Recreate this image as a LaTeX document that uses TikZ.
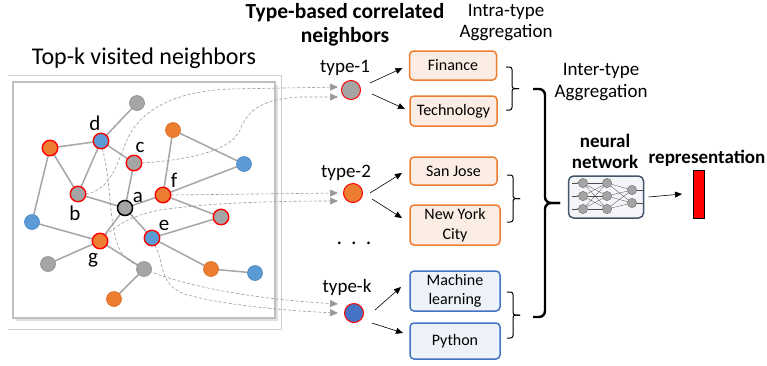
\documentclass[tikz,border=0pt]{standalone}
\usepackage{fontspec}
\setmainfont{Carlito}
\usetikzlibrary{arrows.meta,calc}
\pgfdeclarelayer{bg}
\pgfsetlayers{bg,main}
\definecolor{ngray}{HTML}{A5A5A5}
\definecolor{ngrayd}{HTML}{8C8C8C}
\definecolor{norange}{HTML}{ED7D31}
\definecolor{norangeD}{HTML}{D66A22}
\definecolor{nblue}{HTML}{5B9BD5}
\definecolor{nblueD}{HTML}{4A86C0}
\definecolor{kblue}{HTML}{4472C4}
\definecolor{egray}{HTML}{A6A6A6}
\definecolor{dgray}{HTML}{999999}
\definecolor{obox}{HTML}{FCEDE4}
\definecolor{bbox}{HTML}{EDF2F9}
\definecolor{nnborder}{HTML}{44546A}
\definecolor{nnfill}{HTML}{F3F5F9}
\definecolor{frame}{HTML}{D0D0D0}
\definecolor{inframe}{HTML}{BFBFBF}
\begin{document}
\begin{tikzpicture}[x=1pt,y=-1pt,
  every node/.style={inner sep=0pt,outer sep=0pt},
  gnode/.style={circle,minimum size=15pt,fill=ngray,draw=ngrayd,line width=0.6pt},
  onode/.style={circle,minimum size=15pt,fill=norange,draw=norangeD,line width=0.6pt},
  bnode/.style={circle,minimum size=15pt,fill=nblue,draw=nblueD,line width=0.6pt},
  sel/.style={draw=red,line width=1.4pt,minimum size=15.5pt},
  edge/.style={draw=egray,line width=1.5pt},
  dsh/.style={draw=dgray,line width=0.6pt,dash pattern=on 3pt off 2pt,
    -{Triangle[length=8pt,width=7pt]}},
  letter/.style={font=\fontsize{21}{21}\selectfont},
  tlbl/.style={font=\fontsize{19}{19}\selectfont,anchor=base},
  typenode/.style={circle,minimum size=19pt,draw=red,line width=1pt},
  obx/.style={draw=norange,fill=obox,rounded corners=4pt,line width=1.5pt,
    minimum width=87pt,font=\fontsize{16}{19.5}\selectfont,align=center},
  bbx/.style={draw=kblue,fill=bbox,rounded corners=4pt,line width=1.5pt,
    minimum width=90pt,font=\fontsize{16}{19.5}\selectfont,align=center},
  arr/.style={draw=black,line width=0.6pt,-{Triangle[length=7pt,width=6pt]}},
  brc/.style={draw=black,line width=1pt,rounded corners=2.5pt},
  nn/.style={circle,minimum size=9pt,fill=ngray,draw=gray,line width=0.5pt}
]
\useasboundingbox (0,0) rectangle (767,365);

% ---------- frame of the neighbour graph
\begin{pgfonlayer}{bg}
\draw[frame,line width=0.8pt] (8,75) -- (281,75) -- (281,329) -- (8,329);
\fill[black!12] (16,85) rectangle (278,321);
\draw[inframe,line width=1.2pt,fill=white] (13,82) rectangle (275,318);
\end{pgfonlayer}

% ---------- titles
\node[font=\fontsize{24}{24}\selectfont,anchor=base] (ttl) at (144,64) {Top-k visited neighbors};
\node[font=\bfseries\fontsize{21.5}{24}\selectfont,align=center,anchor=base] (tbc) at (345,42) {Type-based correlated\\neighbors};
\node[font=\fontsize{19}{21}\selectfont,align=center,anchor=base] (intra) at (506,37) {Intra-type\\Aggregation};
\node[font=\fontsize{19}{22}\selectfont,align=center,anchor=base] (inter) at (601,97) {Inter-type\\Aggregation};
\node[font=\bfseries\fontsize{19}{21}\selectfont,align=center,anchor=base] (nnl) at (605,168) {neural\\network};
\node[font=\bfseries\fontsize{19}{21}\selectfont,anchor=base] (repl) at (707,163) {representation};

% ---------- graph nodes
\node[gnode] (top) at (137,103) {};
\node[bnode,sel] (d) at (101,141) {};
\node[onode,sel] (ol) at (50,148) {};
\node[gnode,sel] (c) at (134,163) {};
\node[onode] (ot) at (173,130) {};
\node[bnode] (br) at (244,164) {};
\node[gnode,sel] (b) at (78,194) {};
\node[gnode,draw=black,line width=1.5pt] (a) at (125,208) {};
\node[onode,sel] (f) at (163,195) {};
\node[gnode,sel] (gr) at (221,217) {};
\node[bnode] (bl) at (32,222) {};
\node[bnode,sel] (e) at (152,238) {};
\node[onode,sel] (g) at (100,241) {};
\node[gnode] (gbl) at (48,264) {};
\node[gnode] (gm) at (144,269) {};
\node[onode] (obm) at (211,269) {};
\node[bnode] (bbr) at (255,273) {};
\node[onode] (ob) at (114,299) {};

\node[letter] (ld) at (95,123) {d};
\node[letter] (lc) at (140,147) {c};
\node[letter] (lf) at (174,180) {f};
\node[letter] (la) at (138,197) {a};
\node[letter] (lb) at (75,213) {b};
\node[letter] (le) at (164,225) {e};
\node[letter] (lg) at (93,260) {g};

\begin{pgfonlayer}{bg}
\foreach \u/\v in {top/d,d/ol,d/c,d/b,ol/b,ol/bl,b/a,c/a,a/f,a/e,a/g,f/ot,f/br,f/gr,
  ot/br,e/gr,e/obm,obm/bbr,bl/g,g/gbl,g/gm,gm/ob}
  \draw[edge] (\u) -- (\v);
\end{pgfonlayer}

% ---------- type nodes
\node[typenode,fill=ngray] (t1) at (351,90) {};
\node[typenode,fill=norange] (t2) at (353,193) {};
\node[typenode,fill=kblue] (tk) at (354,313) {};
\node[tlbl] (lt1) at (345,72) {type-1};
\node[tlbl] (lt2) at (346,177) {type-2};
\node[tlbl] (ltk) at (347,292) {type-k};
\node[font=\fontsize{22}{22}\selectfont] (dots) at (354,243) {.\hspace{9pt}.\hspace{9pt}.};

\coordinate (t1a) at ($(t1)+(-13,-3)$);
\coordinate (t1b) at ($(t1)+(-13,7)$);
\coordinate (t2a) at ($(t2)+(-15,0)$);
\coordinate (t2b) at ($(t2)+(-15,8)$);
\coordinate (t3a) at ($(tk)+(-16,-9)$);
\coordinate (t3b) at ($(tk)+(-16,0)$);

% ---------- dashed correlation curves
\begin{pgfonlayer}{bg}
\draw[dsh] (b.east) .. controls (112,190) and (118,160) .. (127,140)
   .. controls (140,110) and (175,91) .. (230,89) -- (t1a);
\draw[dsh] (c.east) .. controls (190,160) and (232,150) .. (240,130)
   .. controls (248,108) and (265,99) .. (300,97) -- (t1b);
\draw[dsh] (f.east) -- (t2a);
\draw[dsh] (g.45) .. controls (120,222) and (135,215) .. (160,210)
   .. controls (200,204) and (260,201) .. (t2b);
\draw[dsh] (d.-80) .. controls (113,190) and (108,235) .. (123,255)
   .. controls (140,275) and (220,297) .. (t3a);
\draw[dsh] (e.-70) .. controls (165,262) and (158,285) .. (185,294)
   .. controls (220,305) and (290,311) .. (t3b);
\end{pgfonlayer}

% ---------- attribute boxes
\node[obx,minimum height=29pt] (fin) at (453,65.5) {Finance};
\node[obx,minimum height=30pt] (tech) at (453.5,111) {Technology};
\node[obx,minimum height=28pt] (sj) at (453.5,171) {San Jose};
\node[obx,minimum height=40pt,minimum width=90pt] (ny) at (455,225) {New York\\City};
\node[bbx,minimum height=40pt] (ml) at (455,291) {Machine\\learning};
\node[bbx,minimum height=36pt] (py) at (455,341) {Python};

\draw[arr] ($(t1)+(19,-7)$) -- ($(fin.west)+(-7,2.5)$);
\draw[arr] ($(t1)+(21,4)$) -- ($(tech.west)+(-5,-2)$);
\draw[arr] ($(t2)+(17,0)$) -- ($(sj.west)+(-8,2)$);
\draw[arr] ($(t2)+(19,6)$) -- ($(ny.west)+(-8,-7)$);
\draw[arr] ($(tk)+(21,-3)$) -- ($(ml.west)+(-9,-4)$);
\draw[arr] ($(tk)+(18,10)$) -- ($(py.west)+(-7,-8)$);

% ---------- intra-type braces
\draw[brc] (506,67) -- (512,67) -- (512,88.5) -- (519,88.5);
\draw[brc] (519,88.5) -- (512,88.5) -- (512,110) -- (506,110);
\draw[brc] (507,175) -- (513,175) -- (513,198.5) -- (520,198.5);
\draw[brc] (520,198.5) -- (513,198.5) -- (513,222) -- (507,222);
\draw[brc] (507,292) -- (513,292) -- (513,315) -- (520,315);
\draw[brc] (520,315) -- (513,315) -- (513,338) -- (507,338);

% ---------- inter-type brace
\draw[draw=black,line width=2.4pt,rounded corners=6pt] (533,89) -- (545,89) -- (545,203) -- (560,203);
\draw[draw=black,line width=2.4pt,rounded corners=6pt] (560,203) -- (545,203) -- (545,317) -- (533,317);

% ---------- neural network icon
\node[draw=nnborder,fill=nnfill,line width=1.5pt,rounded corners=5pt,
  minimum width=75pt,minimum height=42pt] (nnbox) at (606,197) {};
\node[nn] (n11) at (583,183) {};
\node[nn] (n12) at (583,196) {};
\node[nn] (n13) at (583,209) {};
\node[nn] (n21) at (607,183) {};
\node[nn] (n22) at (607,196) {};
\node[nn] (n23) at (607,209) {};
\node[nn] (n31) at (632,190) {};
\node[nn] (n32) at (632,203) {};
\foreach \i in {1,2,3}{
  \foreach \j in {1,2,3}{\draw[line width=0.3pt,black!70] (n1\i) -- (n2\j);}
  \foreach \j in {1,2}{\draw[line width=0.3pt,black!70] (n2\i) -- (n3\j);}
  \draw[line width=0.3pt,black!70,-{Latex[length=1.5pt,width=1.5pt]}] ($(n1\i)+(-11,0)$) -- (n1\i.west);
}
\foreach \i in {1,2}{\draw[line width=0.3pt,black!70] (n3\i.east) -- ++(7,0);}
\foreach \n in {n11,n12,n13,n21,n22,n23,n31,n32}{\node[nn] at (\n) {};}

% ---------- representation
\node[draw=black,fill=red,line width=0.6pt,minimum width=11pt,minimum height=48pt] (rep) at (698.5,194) {};
\draw[arr] ($(nnbox.east)+(5,0)$) -- ($(rep.west)+(-11,0)$);
\end{tikzpicture}
\end{document}
